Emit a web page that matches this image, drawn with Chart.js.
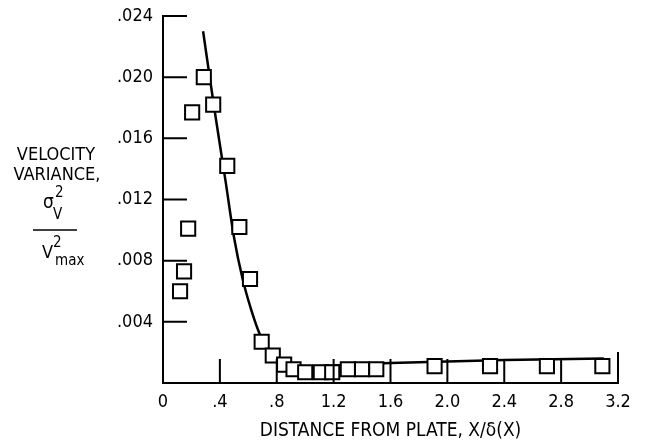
<!DOCTYPE html>
<html>
<head>
<meta charset="utf-8">
<script src="https://cdn.jsdelivr.net/npm/chart.js@4"></script>
<style>
  html, body { margin: 0; padding: 0; background: #fff; }
  #wrap { width: 648px; height: 442px; }
</style>
</head>
<body>
<div id="wrap"><canvas id="plot" width="648" height="442"></canvas></div>
<script>
// measured points (squares)
var xMeas = [0.12, 0.148, 0.177, 0.205, 0.287, 0.353, 0.452, 0.537, 0.612, 0.694, 0.772, 0.852, 0.918, 1.00, 1.11, 1.19, 1.30, 1.40, 1.50, 1.91, 2.30, 2.70, 3.09];
var yMeas = [0.0060, 0.0073, 0.0101, 0.0177, 0.0200, 0.0182, 0.0142, 0.0102, 0.0068, 0.0027, 0.0018, 0.0012, 0.0009, 0.0007, 0.0007, 0.0007, 0.0009, 0.0009, 0.0009, 0.0011, 0.0011, 0.0011, 0.0011];
// faired curve
var xCurve = [0.282, 0.36, 0.44, 0.50, 0.56, 0.62, 0.68, 0.74, 0.80, 0.88, 1.0, 1.6, 2.4, 3.1];
var yCurve = [0.0230, 0.0180, 0.0132, 0.0095, 0.0068, 0.0048, 0.0032, 0.0021, 0.0014, 0.0011, 0.0011, 0.0013, 0.0015, 0.0016];
// axis ticks
var xTickValues = [0, 0.4, 0.8, 1.2, 1.6, 2.0, 2.4, 2.8, 3.2];
var xTickLabels = ['0', '.4', '.8', '1.2', '1.6', '2.0', '2.4', '2.8', '3.2'];
var yTickValues = [0.004, 0.008, 0.012, 0.016, 0.020, 0.024];
var yTickLabels = ['.004', '.008', '.012', '.016', '.020', '.024'];

var FONT = "'Liberation Sans Narrow', 'DejaVu Sans Condensed', sans-serif";

function pts(xs, ys) {
  var out = [];
  for (var i = 0; i < xs.length; i++) out.push({x: xs[i], y: ys[i]});
  return out;
}

// inward tick marks + y axis label block
var decor = {
  id: 'decor',
  afterDraw: function (chart) {
    var c = chart.ctx, xs = chart.scales.x, ys = chart.scales.y;
    var x0 = xs.getPixelForValue(0), y0 = ys.getPixelForValue(0);
    c.save();
    c.strokeStyle = '#000';
    c.lineWidth = 2;
    c.beginPath();
    yTickValues.forEach(function (v) {
      var py = ys.getPixelForValue(v);
      c.moveTo(x0, py); c.lineTo(x0 + 24, py);
    });
    xTickValues.forEach(function (v, i) {
      if (v === 0) return;
      var px = xs.getPixelForValue(v);
      var len = (i === xTickValues.length - 1) ? 31 : 24;
      c.moveTo(px, y0); c.lineTo(px, y0 - len);
    });
    c.stroke();

    // y axis title
    c.fillStyle = '#000';
    c.textAlign = 'center';
    c.textBaseline = 'alphabetic';
    c.font = '18px ' + FONT;
    c.fillText('VELOCITY', 56, 160);
    c.fillText('VARIANCE,', 57, 180);
    // sigma^2_V
    c.textAlign = 'left';
    c.font = '19px ' + FONT;
    c.fillText('σ', 43, 208);
    c.font = '15px ' + FONT;
    c.fillText('2', 55, 197);
    c.fillText('V', 53, 219);
    // fraction bar
    c.beginPath();
    c.lineWidth = 1.5;
    c.moveTo(33, 230); c.lineTo(77, 230);
    c.stroke();
    // V^2_max
    c.font = '18px ' + FONT;
    c.fillText('V', 42, 258);
    c.font = '15px ' + FONT;
    c.fillText('2', 53, 247);
    c.fillText('max', 55, 265);
    c.restore();
  }
};

new Chart(document.getElementById('plot'), {
  type: 'scatter',
  data: {
    datasets: [{
      data: pts(xMeas, yMeas),
      pointStyle: 'rect',
      pointRadius: 10,
      pointHoverRadius: 10,
      pointBorderWidth: 2,
      pointBorderColor: '#000',
      pointBackgroundColor: '#fff',
      showLine: false,
      order: 0
    }, {
      data: pts(xCurve, yCurve),
      showLine: true,
      borderColor: '#000',
      borderWidth: 2.5,
      pointRadius: 0,
      cubicInterpolationMode: 'monotone',
      order: 1
    }]
  },
  plugins: [decor],
  options: {
    responsive: false,
    animation: false,
    events: [],
    layout: { padding: { top: 16, right: 30, left: 0, bottom: 0 } },
    plugins: { legend: { display: false }, tooltip: { enabled: false } },
    scales: {
      x: {
        type: 'linear',
        min: 0,
        max: 3.2,
        afterBuildTicks: function (s) { s.ticks = xTickValues.map(function (v) { return {value: v}; }); },
        afterFit: function (s) { s.height = 59; },
        border: { display: true, color: '#000', width: 2 },
        grid: { display: true, drawOnChartArea: false, drawTicks: false },
        ticks: {
          color: '#000',
          font: { family: FONT, size: 18 },
          padding: 9,
          maxRotation: 0,
          autoSkip: false,
          callback: function (v, i) { return xTickLabels[i]; }
        },
        title: {
          display: true,
          text: 'DISTANCE FROM PLATE, X/δ(X)',
          color: '#000',
          font: { family: FONT, size: 19 },
          padding: { top: 1, bottom: 0 }
        }
      },
      y: {
        type: 'linear',
        min: 0,
        max: 0.024,
        afterBuildTicks: function (s) { s.ticks = yTickValues.map(function (v) { return {value: v}; }); },
        afterFit: function (s) { s.width = 163; s.paddingTop = 0; s.paddingBottom = 0; },
        border: { display: true, color: '#000', width: 2 },
        grid: { display: true, drawOnChartArea: false, drawTicks: false },
        ticks: {
          color: '#000',
          font: { family: FONT, size: 18 },
          padding: 10,
          autoSkip: false,
          callback: function (v, i) { return yTickLabels[i]; }
        }
      }
    }
  }
});
</script>
</body>
</html>
